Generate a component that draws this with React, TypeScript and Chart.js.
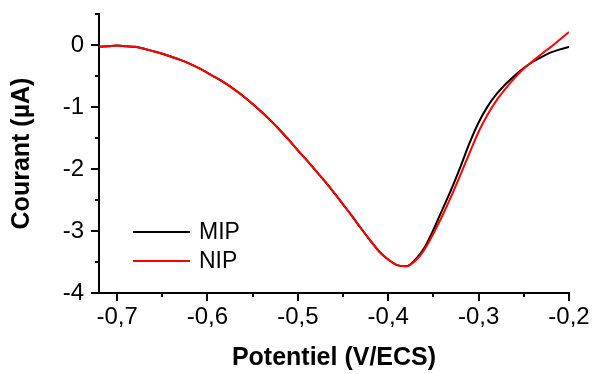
import React, { useEffect, useRef } from "react";
import { Chart, registerables } from "chart.js";

Chart.register(...registerables);

const potentials = [
  -0.72, -0.71, -0.70, -0.69, -0.68, -0.67, -0.66, -0.65, -0.64, -0.63,
  -0.62, -0.61, -0.60, -0.59, -0.58, -0.57, -0.56, -0.55, -0.54, -0.53,
  -0.52, -0.51, -0.50, -0.49, -0.48, -0.47, -0.46, -0.45, -0.44, -0.43,
  -0.42, -0.41, -0.40, -0.39, -0.38, -0.37, -0.36, -0.35, -0.34, -0.33,
  -0.32, -0.31, -0.30, -0.29, -0.28, -0.27, -0.26, -0.25, -0.24, -0.23,
  -0.22, -0.21, -0.20,
];

const mipCurrent = [
  -0.03, -0.02, -0.01, -0.02, -0.03, -0.06, -0.10, -0.14, -0.19, -0.24,
  -0.30, -0.37, -0.45, -0.53, -0.62, -0.72, -0.83, -0.95, -1.08, -1.22,
  -1.37, -1.53, -1.70, -1.86, -2.03, -2.20, -2.38, -2.57, -2.76, -2.96,
  -3.15, -3.33, -3.46, -3.55, -3.57, -3.46, -3.27, -2.98, -2.65, -2.32,
  -1.96, -1.58, -1.25, -0.99, -0.79, -0.63, -0.49, -0.37, -0.27, -0.19,
  -0.12, -0.07, -0.03,
];

const nipCurrent = [
  -0.03, -0.02, -0.01, -0.02, -0.03, -0.06, -0.10, -0.14, -0.19, -0.24,
  -0.30, -0.37, -0.45, -0.53, -0.62, -0.72, -0.83, -0.95, -1.08, -1.22,
  -1.37, -1.53, -1.70, -1.86, -2.03, -2.20, -2.38, -2.57, -2.76, -2.96,
  -3.15, -3.33, -3.46, -3.55, -3.57, -3.48, -3.30, -3.04, -2.75, -2.43,
  -2.09, -1.74, -1.40, -1.12, -0.89, -0.70, -0.53, -0.38, -0.26, -0.14,
  -0.03, 0.09, 0.21,
];

const seriesLabels = ["MIP", "NIP"];
const seriesColors = ["#000000", "#ff0000"];
const xMinorTicks = [-0.65, -0.55, -0.45, -0.35, -0.25];
const yMinorTicks = [-3.5, -2.5, -1.5, -0.5, 0.5];

const FONT = "'Liberation Sans', Arial, sans-serif";

const minorTicksPlugin = {
  id: "minorTicks",
  afterDraw(chart: any) {
    const { ctx, chartArea, scales } = chart;
    ctx.save();
    ctx.strokeStyle = "#000";
    ctx.lineWidth = 2;
    ctx.beginPath();
    for (const v of xMinorTicks) {
      const px = Math.round(scales.x.getPixelForValue(v));
      ctx.moveTo(px, chartArea.bottom);
      ctx.lineTo(px, chartArea.bottom + 4);
    }
    for (const v of yMinorTicks) {
      const py = Math.round(scales.y.getPixelForValue(v));
      ctx.moveTo(chartArea.left, py);
      ctx.lineTo(chartArea.left - 4, py);
    }
    ctx.stroke();
    ctx.restore();
  },
};

const insideLegendPlugin = {
  id: "insideLegend",
  afterDraw(chart: any) {
    const { ctx } = chart;
    ctx.save();
    ctx.font = `23px ${FONT}`;
    ctx.textBaseline = "middle";
    ctx.fillStyle = "#000";
    const rows = [232, 261];
    chart.data.datasets.forEach((ds: any, i: number) => {
      const y = rows[i];
      ctx.strokeStyle = ds.borderColor;
      ctx.lineWidth = 2;
      ctx.beginPath();
      ctx.moveTo(133, y);
      ctx.lineTo(190, y);
      ctx.stroke();
      ctx.fillText(ds.label, 199, y + 1);
    });
    ctx.restore();
  },
};

export default function App() {
  const ref = useRef<HTMLCanvasElement>(null);

  useEffect(() => {
    if (!ref.current) return;
    const build = (vals: number[]) => potentials.map((x, i) => ({ x, y: vals[i] }));
    const chart = new Chart(ref.current, {
      type: "line",
      data: {
        datasets: [
          {
            label: seriesLabels[0],
            data: build(mipCurrent),
            borderColor: seriesColors[0],
            borderWidth: 2,
            pointRadius: 0,
            cubicInterpolationMode: "monotone",
            order: 1,
          },
          {
            label: seriesLabels[1],
            data: build(nipCurrent),
            borderColor: seriesColors[1],
            borderWidth: 2,
            pointRadius: 0,
            cubicInterpolationMode: "monotone",
            order: 0,
          },
        ],
      },
      options: {
        responsive: false,
        animation: false,
        layout: { padding: { top: 14, right: 26, left: 0, bottom: 0 } },
        plugins: { legend: { display: false }, tooltip: { enabled: false } },
        scales: {
          x: {
            type: "linear",
            min: -0.72,
            max: -0.2,
            afterFit: (s: any) => {
              s.height = 81;
              s.paddingLeft = 0;
              s.paddingRight = 0;
            },
            border: { display: true, color: "#000", width: 2 },
            grid: { drawOnChartArea: false, drawTicks: true, tickLength: 8, color: "#000", lineWidth: 2 },
            ticks: {
              stepSize: 0.1,
              includeBounds: false,
              padding: 2,
              color: "#000",
              font: { family: FONT, size: 24 },
              maxRotation: 0,
              callback: (v: any) => Number(v).toFixed(1).replace(".", ","),
            },
            title: {
              display: true,
              text: "Potentiel (V/ECS)",
              color: "#000",
              font: { family: FONT, size: 25, weight: "bold" },
              padding: { top: 0, bottom: 1 },
            },
          },
          y: {
            type: "linear",
            min: -4,
            max: 0.5,
            afterFit: (s: any) => {
              s.width = 99;
              s.paddingTop = 0;
              s.paddingBottom = 0;
            },
            border: { display: true, color: "#000", width: 2 },
            grid: { drawOnChartArea: false, drawTicks: true, tickLength: 8, color: "#000", lineWidth: 2 },
            ticks: {
              stepSize: 1,
              includeBounds: false,
              padding: 7,
              color: "#000",
              font: { family: FONT, size: 24 },
              callback: (v: any) => String(Math.round(Number(v))),
            },
            title: {
              display: true,
              text: "Courant (µA)",
              color: "#000",
              font: { family: FONT, size: 25, weight: "bold" },
              padding: { top: 7, bottom: 0 },
            },
          },
        },
      },
      plugins: [minorTicksPlugin, insideLegendPlugin],
    });
    return () => chart.destroy();
  }, []);

  return (
    <div style={{ position: "absolute", left: 0, top: 0, width: 595, height: 374 }}>
      <canvas ref={ref} width={595} height={374} style={{ display: "block" }} />
    </div>
  );
}
